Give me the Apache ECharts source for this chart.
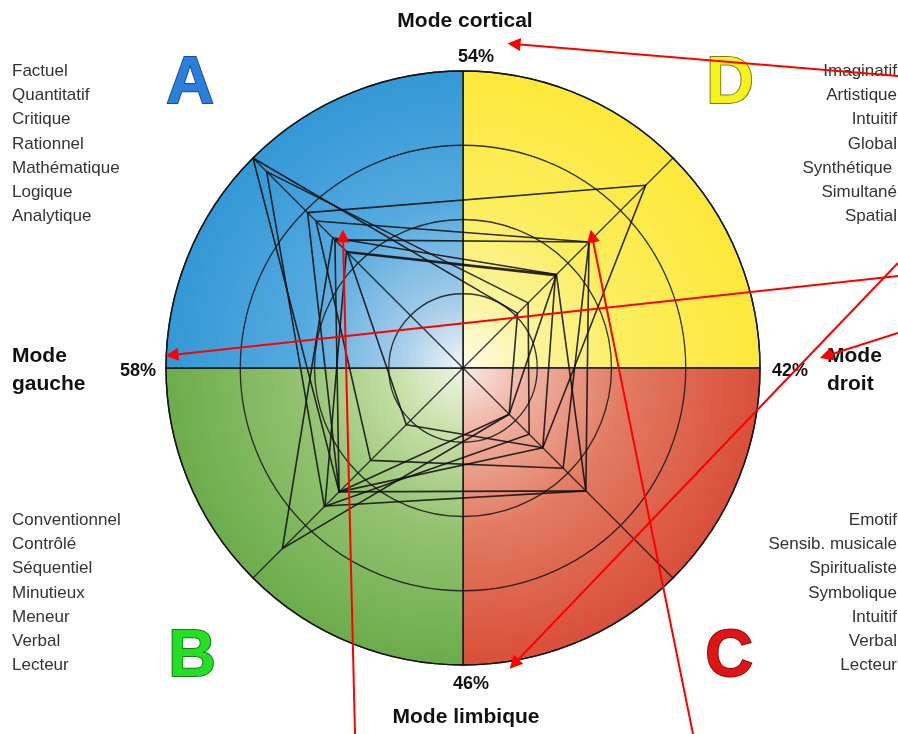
<!DOCTYPE html>
<html><head><meta charset="utf-8">
<script src="https://cdn.jsdelivr.net/npm/echarts@6/dist/echarts.min.js"></script>
<style>html,body{margin:0;padding:0;background:#fff}#c{width:898px;height:734px}</style>
</head><body><div id="c"></div>
<script>
// Radar axes (quadrants, in radar order: A top-left, B bottom-left, C bottom-right, D top-right)
const axes = ['A', 'B', 'C', 'D'];
// Individual profiles (fraction of full scale) on [A, B, C, D]
const profile1 = [1.00, 0.59, 0.22, 0.26];
const profile2 = [0.935, 0.66, 0.315, 0.31];
const profile3 = [0.74, 0.59, 0.38, 0.87];
const profile4 = [0.70, 0.44, 0.477, 0.60];
const profile5 = [0.62, 0.86, 0.22, 0.445];
const profile6 = [0.61, 0.59, 0.585, 0.60];
const profile7 = [0.555, 0.657, 0.585, 0.445];
const profile8 = [0.55, 0.27, 0.38, 0.44];
const profiles = [profile1, profile2, profile3, profile4, profile5, profile6, profile7, profile8];

// Quadrant (pie) slices, drawn clockwise from the top
const quadrants = ['D', 'C', 'B', 'A'];
const quadrantShare = [1, 1, 1, 1];

// Mode percentages
const modeTop = '54%', modeRight = '42%', modeBottom = '46%', modeLeft = '58%';

// Word lists
const wordsA = ['Factuel', 'Quantitatif', 'Critique', 'Rationnel', 'Mathématique', 'Logique', 'Analytique'];
const wordsD = ['Imaginatif', 'Artistique', 'Intuitif', 'Global', 'Synthétique ', 'Simultané', 'Spatial'];
const wordsB = ['Conventionnel', 'Contrôlé', 'Séquentiel', 'Minutieux', 'Meneur', 'Verbal', 'Lecteur'];
const wordsC = ['Emotif', 'Sensib. musicale', 'Spiritualiste', 'Symbolique', 'Intuitif', 'Verbal', 'Lecteur'];

// Red annotation arrows [start, tip] in page pixels
const arrows = [
  [[898, 76], [514, 44]],
  [[898, 276], [172, 355]],
  [[898, 333], [826, 356]],
  [[898, 263], [514, 664]],
  [[355, 734], [343, 236]],
  [[693, 734], [592, 236]]
];

const CX = 463, CY = 368, R = 297;
function grad(c0, c1, c2, c3) {
  return { type: 'radial', x: CX, y: CY, r: R, global: true,
    colorStops: [{offset: 0, color: c0}, {offset: 0.22, color: c1}, {offset: 0.55, color: c2}, {offset: 1, color: c3}] };
}
const quadColors = {
  A: grad('#f1f6fa', '#a6cde9', '#55aadf', '#3398d6'),
  D: grad('#fefcec', '#fbf4a4', '#fbee5e', '#fde83a'),
  C: grad('#f9ebe7', '#efb2a2', '#e27a61', '#d94f3a'),
  B: grad('#f0f4e4', '#c8e0a9', '#93c270', '#6cac4c')
};

const FONT = '"Liberation Sans", Arial, Helvetica, sans-serif';
const graphics = [];
function txt(x, y, text, opts) {
  graphics.push({ type: 'text', x: x, y: y, z: 20, silent: true,
    style: Object.assign({ text: text, font: '17px ' + FONT, fill: '#333', textAlign: 'left', textVerticalAlign: 'middle' }, opts || {}) });
}
wordsA.forEach((w, i) => txt(12, 71 + i * 24.3, w));
wordsD.forEach((w, i) => txt(897, 71 + i * 24.3, w, { textAlign: 'right' }));
wordsB.forEach((w, i) => txt(12, 520 + i * 24.3, w));
wordsC.forEach((w, i) => txt(897, 520 + i * 24.3, w, { textAlign: 'right' }));

const bold = 'bold 21px ' + FONT;
txt(465, 21, 'Mode cortical', { font: bold, fill: '#111', textAlign: 'center' });
txt(466, 717, 'Mode limbique', { font: bold, fill: '#111', textAlign: 'center' });
txt(12, 356, 'Mode', { font: bold, fill: '#111' });
txt(12, 384, 'gauche', { font: bold, fill: '#111' });
txt(827, 356, 'Mode', { font: bold, fill: '#111' });
txt(827, 384, 'droit', { font: bold, fill: '#111' });
const pct = 'bold 18px ' + FONT;
txt(476, 57, modeTop, { font: pct, fill: '#111', textAlign: 'center' });
txt(471, 684, modeBottom, { font: pct, fill: '#111', textAlign: 'center' });
txt(138, 371, modeLeft, { font: pct, fill: '#111', textAlign: 'center' });
txt(790, 371, modeRight, { font: pct, fill: '#111', textAlign: 'center' });

const big = 'bold 66px ' + FONT;
txt(190, 85, 'A', { font: big, fill: '#2a7fdc', stroke: '#1d4f96', lineWidth: 2, textAlign: 'center' });
txt(730, 85, 'D', { font: big, fill: '#f4f41a', stroke: '#7a7a20', lineWidth: 2, textAlign: 'center' });
txt(192, 658, 'B', { font: big, fill: '#22e022', stroke: '#1d7a1d', lineWidth: 2, textAlign: 'center' });
txt(729, 658, 'C', { font: big, fill: '#e01414', stroke: '#8a1010', lineWidth: 2, textAlign: 'center' });

const chart = echarts.init(document.getElementById('c'), null, { renderer: 'canvas' });
chart.setOption({
  animation: false,
  backgroundColor: '#fff',
  grid: { left: 0, right: 0, top: 0, bottom: 0 },
  xAxis: { type: 'value', min: 0, max: 898, show: false },
  yAxis: { type: 'value', min: 0, max: 734, inverse: true, show: false },
  radar: {
    center: [CX, CY], radius: R, startAngle: 135, shape: 'circle', splitNumber: 4, z: 3,
    indicator: axes.map(n => ({ name: n, max: 1, min: 0 })),
    axisName: { show: false },
    splitArea: { show: false },
    splitLine: { lineStyle: { color: '#141414', width: 1.3, opacity: 0.85 } },
    axisLine: { lineStyle: { color: '#141414', width: 1.3, opacity: 0.85 } },
    axisTick: { show: false }, axisLabel: { show: false }
  },
  series: [
    { type: 'pie', center: [CX, CY], radius: R, startAngle: 90, clockwise: true, z: 1, silent: true,
      label: { show: false }, labelLine: { show: false },
      itemStyle: { borderColor: '#1a1a1a', borderWidth: 1.5 },
      data: quadrants.map((q, i) => ({ name: q, value: quadrantShare[i], itemStyle: { color: quadColors[q] } })) },
    { type: 'radar', z: 4, symbol: 'none', silent: true,
      lineStyle: { color: '#0a0a0a', width: 1.6, opacity: 0.85 },
      data: profiles.map((p, i) => ({ name: 'P' + (i + 1), value: p })) },
    { type: 'lines', coordinateSystem: 'cartesian2d', z: 30, silent: true,
      symbol: ['none', 'triangle'], symbolSize: [0, 13],
      lineStyle: { color: '#ff0000', width: 2, opacity: 1, curveness: 0 },
      itemStyle: { color: '#ff0000' },
      data: arrows.map(a => ({ coords: a })) }
  ],
  graphic: graphics
});
</script></body></html>
